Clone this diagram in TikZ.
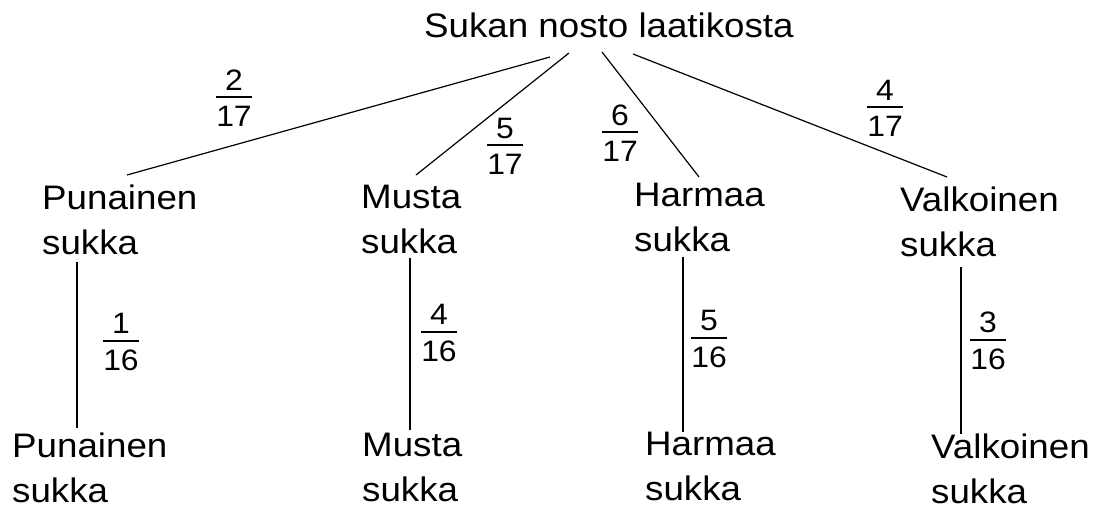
\documentclass[tikz,border=0pt]{standalone}
\usepackage{fontspec}
\setmainfont{Liberation Sans}[FakeStretch=1.08]
\usetikzlibrary{calc}
\newcommand{\fr}[2]{\vbox{\halign{\hfil##\hfil\cr#1\cr\noalign{\kern6pt\hrule height 1.7pt\kern8pt}#2\cr}}}
\tikzset{
  lab/.style={anchor=north west, inner sep=0pt, align=left, font=\fontsize{34}{45}\selectfont},
  fraclab/.style={inner sep=0pt, font=\fontsize{29.5}{34}\selectfont},
  edge/.style={line width=1.2pt, draw=black}
}
\begin{document}
\begin{tikzpicture}[x=1pt,y=-1pt]
\useasboundingbox (0,0) rectangle (1096,510);
% nodes
\node[lab] (root) at (424,13) {Sukan nosto laatikosta};
\node[lab] (p1) at (42,185) {Punainen\\sukka};
\node[lab] (m1) at (361,185) {Musta\\sukka};
\node[lab] (h1) at (634,183) {Harmaa\\sukka};
\node[lab] (v1) at (900,187) {Valkoinen\\sukka};
\node[lab] (p2) at (12,433) {Punainen\\sukka};
\node[lab] (m2) at (362,433) {Musta\\sukka};
\node[lab] (h2) at (645,432) {Harmaa\\sukka};
\node[lab] (v2) at (931,434) {Valkoinen\\sukka};
% first level edges
\draw[edge] ($(root.north west)+(126,44)$) -- ($(p1.north west)+(85,-10)$);
\draw[edge] ($(root.north west)+(145,40)$) -- ($(m1.north west)+(55,-10)$);
\draw[edge] ($(root.north west)+(178,39)$) -- ($(h1.north west)+(65,-6)$);
\draw[edge] ($(root.north west)+(209,41)$) -- ($(v1.north west)+(47,-10)$);
% second level edges
\draw[edge] ($(p1.north west)+(35,77)$) -- ($(p2.north west)+(65,-5)$);
\draw[edge] ($(m1.north west)+(49,73)$) -- ($(m2.north west)+(48,-3)$);
\draw[edge] ($(h1.north west)+(49,74)$) -- ($(h2.north west)+(38,0)$);
\draw[edge] ($(v1.north west)+(61,80)$) -- ($(v2.north west)+(30,0)$);
% probabilities
\node[fraclab] (f1) at (234,98) {\fr{2}{17}};
\node[fraclab] (f2) at (505,146) {\fr{5}{17}};
\node[fraclab] (f3) at (620,133) {\fr{6}{17}};
\node[fraclab] (f4) at (885,108) {\fr{4}{17}};
\node[fraclab] (g1) at (121,342) {\fr{1}{16}};
\node[fraclab] (g2) at (439,333) {\fr{4}{16}};
\node[fraclab] (g3) at (709,339) {\fr{5}{16}};
\node[fraclab] (g4) at (988,341) {\fr{3}{16}};
\end{tikzpicture}
\end{document}
